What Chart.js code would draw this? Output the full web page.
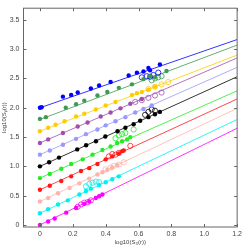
<!DOCTYPE html>
<html>
<head>
<meta charset="utf-8">
<script src="https://cdn.jsdelivr.net/npm/chart.js@4/dist/chart.umd.min.js"></script>
<style>
  html, body { margin: 0; padding: 0; background: #fff; }
  #wrap { width: 245px; height: 246px; }
</style>
</head>
<body>
<div id="wrap"><canvas id="grafico"></canvas></div>
<script>
const xTicks = [0, 0.2, 0.4, 0.6, 0.8, 1, 1.2];
const yTicks = [0, 0.5, 1, 1.5, 2, 2.5, 3, 3.5];

const nomes = ["p1", "p2", "p3", "p4", "p5", "p6", "p7", "p8", "p9", "p10", "p11"];
const cores = ["#0000ff", "#3f9a55", "#ffcc00", "#a04fb0", "#9999ff", "#000000",
               "#22ee22", "#ff1a1a", "#ffb4aa", "#00f0f0", "#ff00ff"];

// retas ajustadas: valor em x=0 e em x=1.2
const retaInicio = [2.0, 1.8, 1.6, 1.4, 1.2, 1.0, 0.8, 0.6, 0.4, 0.2, 0.0];
const retaFim = [3.165, 3.07, 2.90, 2.85, 2.69, 2.53, 2.29, 2.15, 1.99, 1.80, 1.65];

// pontos cheios
const xCheio = [
  [0, 0.01, 0.14, 0.19, 0.23, 0.31, 0.36, 0.43, 0.54, 0.59, 0.63, 0.66, 0.67, 0.73],
  [0, 0.036, 0.157, 0.22, 0.27, 0.35, 0.41, 0.48, 0.56, 0.63, 0.67, 0.70, 0.77],
  [0, 0.05, 0.095, 0.15, 0.22, 0.27, 0.34, 0.40, 0.46, 0.56, 0.59, 0.62, 0.66, 0.70],
  [0, 0.05, 0.14, 0.23, 0.29, 0.37, 0.43, 0.49, 0.55, 0.62],
  [0, 0.06, 0.14, 0.22, 0.28, 0.35, 0.40, 0.46, 0.52, 0.58, 0.63, 0.68],
  [0, 0.056, 0.116, 0.227, 0.281, 0.341, 0.398, 0.472, 0.52, 0.57, 0.61, 0.66, 0.70, 0.73],
  [0, 0.06, 0.13, 0.19, 0.26, 0.32, 0.38, 0.43, 0.47, 0.50, 0.53, 0.55],
  [0, 0.06, 0.13, 0.19, 0.25, 0.30, 0.35, 0.40, 0.44, 0.48, 0.50, 0.51],
  [0, 0.05, 0.11, 0.18, 0.24, 0.30, 0.35, 0.38, 0.41, 0.44, 0.47],
  [0, 0.05, 0.11, 0.17, 0.24, 0.28, 0.31, 0.36, 0.40, 0.44, 0.48],
  [0, 0.05, 0.09, 0.16, 0.22, 0.27, 0.30, 0.34, 0.36, 0.38]
];
const yCheio = [
  [2.0, 2.01, 2.19, 2.22, 2.26, 2.33, 2.38, 2.44, 2.55, 2.60, 2.62, 2.68, 2.64, 2.74],
  [1.81, 1.84, 2.0, 2.06, 2.12, 2.21, 2.27, 2.34, 2.40, 2.49, 2.54, 2.52, 2.63],
  [1.60, 1.66, 1.71, 1.77, 1.85, 1.90, 1.97, 2.04, 2.10, 2.22, 2.25, 2.27, 2.31, 2.36],
  [1.40, 1.46, 1.57, 1.68, 1.75, 1.85, 1.92, 1.99, 2.07, 2.15],
  [1.20, 1.27, 1.37, 1.47, 1.55, 1.63, 1.70, 1.77, 1.84, 1.92, 1.98, 2.04],
  [1.0, 1.07, 1.15, 1.29, 1.36, 1.43, 1.51, 1.60, 1.66, 1.72, 1.78, 1.84, 1.89, 1.93],
  [0.80, 0.87, 0.96, 1.04, 1.12, 1.20, 1.28, 1.34, 1.40, 1.43, 1.46, 1.50],
  [0.60, 0.67, 0.75, 0.83, 0.92, 0.97, 1.04, 1.12, 1.17, 1.22, 1.26, 1.27],
  [0.40, 0.46, 0.54, 0.63, 0.71, 0.79, 0.86, 0.90, 0.94, 0.98, 1.02],
  [0.20, 0.27, 0.35, 0.42, 0.52, 0.58, 0.62, 0.68, 0.73, 0.78, 0.83],
  [0.0, 0.06, 0.11, 0.21, 0.29, 0.36, 0.40, 0.46, 0.49, 0.52]
];

// pontos abertos
const xAberto = [
  [0.62, 0.65, 0.67, 0.69, 0.72],
  [0.68, 0.70, 0.72, 0.74],
  [0.66, 0.70, 0.74, 0.78],
  [0.58, 0.62, 0.66, 0.70, 0.74],
  [],
  [0.64, 0.66, 0.68, 0.70],
  [0.46, 0.48, 0.50, 0.52, 0.57],
  [0.42, 0.44, 0.46, 0.48, 0.55],
  [0.40, 0.43, 0.45, 0.48, 0.51],
  [0.28, 0.30, 0.32, 0.34, 0.36],
  [0.23, 0.25, 0.27, 0.29, 0.31]
];
const yAberto = [
  [2.52, 2.54, 2.53, 2.56, 2.60],
  [2.47, 2.50, 2.52, 2.54],
  [2.32, 2.36, 2.40, 2.44],
  [2.10, 2.13, 2.17, 2.21, 2.26],
  [],
  [1.88, 1.93, 1.97, 1.95],
  [1.48, 1.53, 1.55, 1.57, 1.63],
  [1.17, 1.21, 1.20, 1.23, 1.35],
  [0.95, 0.98, 1.01, 1.03, 1.07],
  [0.66, 0.70, 0.72, 0.74, 0.73],
  [0.31, 0.35, 0.38, 0.39, 0.42]
];

const corTexto = "#444";
const corEixo = "#666";

function juntar(xs, ys) {
  return xs.map(function (v, i) { return { x: v, y: ys[i] }; });
}

const datasets = [];
nomes.forEach(function (nome, i) {
  datasets.push({
    label: nome + " reta",
    type: "line",
    data: [{ x: 0, y: retaInicio[i] }, { x: 1.2, y: retaFim[i] }],
    borderColor: cores[i] + "cc",
    borderWidth: 1,
    pointRadius: 0,
    fill: false,
    order: 3
  });
  datasets.push({
    label: nome + " aberto",
    data: juntar(xAberto[i], yAberto[i]),
    pointStyle: "circle",
    pointRadius: 2.6,
    pointBorderWidth: 0.8,
    pointBorderColor: cores[i],
    pointBackgroundColor: "rgba(0,0,0,0)",
    order: 2
  });
  datasets.push({
    label: nome,
    data: juntar(xCheio[i], yCheio[i]),
    pointStyle: "circle",
    pointRadius: 2.2,
    pointBorderWidth: 0,
    pointBackgroundColor: cores[i],
    order: 1
  });
});

// moldura e marcas para dentro
const moldura = {
  id: "moldura",
  afterDatasetsDraw(chart) {
    const ctx = chart.ctx;
    const a = chart.chartArea;
    const sx = chart.scales.x;
    const sy = chart.scales.y;
    const t = 3;
    ctx.save();
    ctx.strokeStyle = corEixo;
    ctx.lineWidth = 1;
    ctx.strokeRect(a.left, a.top, a.right - a.left, a.bottom - a.top);
    ctx.beginPath();
    xTicks.forEach(function (v) {
      const px = Math.round(sx.getPixelForValue(v)) + 0.5;
      ctx.moveTo(px, a.bottom); ctx.lineTo(px, a.bottom - t);
      ctx.moveTo(px, a.top); ctx.lineTo(px, a.top + t);
    });
    yTicks.forEach(function (v) {
      const py = Math.round(sy.getPixelForValue(v)) + 0.5;
      ctx.moveTo(a.left, py); ctx.lineTo(a.left + t, py);
      ctx.moveTo(a.right, py); ctx.lineTo(a.right - t, py);
    });
    ctx.stroke();
    ctx.restore();
  }
};

new Chart(document.getElementById("grafico"), {
  type: "scatter",
  data: { datasets: datasets },
  options: {
    responsive: true,
    maintainAspectRatio: false,
    animation: false,
    layout: { padding: { top: 2, right: 6, left: 0, bottom: 0 } },
    plugins: {
      legend: { display: false },
      tooltip: { enabled: false }
    },
    scales: {
      x: {
        type: "linear",
        min: -0.1,
        max: 1.2,
        afterBuildTicks: function (scale) {
          scale.ticks = xTicks.map(function (v) { return { value: v }; });
        },
        afterFit: function (scale) { scale.height = 19; },
        grid: { display: false, drawTicks: false },
        border: { display: false },
        ticks: {
          color: corTexto,
          padding: 3,
          maxRotation: 0,
          autoSkip: false,
          font: { family: "Liberation Sans", size: 7 }
        },
        title: {
          display: true,
          text: "log10(S\u2083(r))",
          color: corTexto,
          padding: { top: 0, bottom: 0 },
          font: { family: "Liberation Sans", size: 6 }
        }
      },
      y: {
        type: "linear",
        min: -0.035,
        max: 3.7,
        afterBuildTicks: function (scale) {
          scale.ticks = yTicks.map(function (v) { return { value: v }; });
        },
        afterFit: function (scale) { scale.width = 23.5; },
        grid: { display: false, drawTicks: false },
        border: { display: false },
        ticks: {
          color: corTexto,
          padding: 4,
          autoSkip: false,
          font: { family: "Liberation Sans", size: 7 }
        },
        title: {
          display: true,
          text: "log10(S\u209a(r))",
          color: corTexto,
          padding: { top: 1, bottom: 0 },
          font: { family: "Liberation Sans", size: 6 }
        }
      }
    }
  },
  plugins: [moldura]
});
</script>
</body>
</html>
